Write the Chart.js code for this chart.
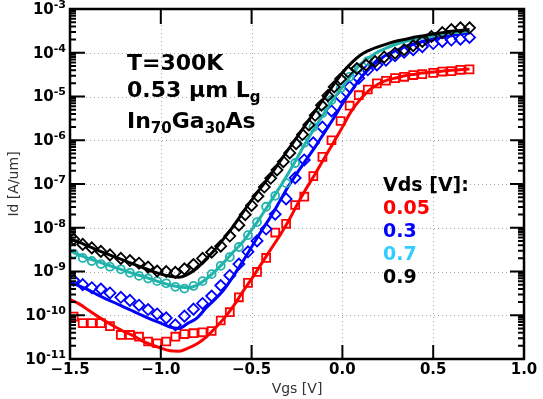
<!DOCTYPE html>
<html>
<head>
<meta charset="utf-8">
<script src="https://cdn.jsdelivr.net/npm/chart.js@4"></script>
<style>
  body { margin: 0; background: #fff; }
  #contGrafico { width: 543px; height: 399px; }
</style>
</head>
<body>
<div id="contGrafico"><canvas id="graficoId" width="543" height="399"></canvas></div>
<script>
//Datos: Vgs [V] y log10(Id [A/um])
const vgsMedido = [-1.48,-1.43,-1.38,-1.33,-1.28,-1.22,-1.17,-1.12,-1.07,-1.02,-0.97,-0.92,-0.87,-0.82,-0.77,-0.72,-0.67,-0.62,-0.57,-0.52,-0.47,-0.42,-0.37,-0.31,-0.26,-0.21,-0.16,-0.11,-0.06,-0.01,0.04,0.09,0.14,0.19,0.24,0.29,0.34,0.39,0.44,0.50,0.55,0.60,0.65,0.70];
const vgsNegro = [-1.48,-1.43,-1.38,-1.33,-1.28,-1.22,-1.17,-1.12,-1.07,-1.02,-0.97,-0.92,-0.87,-0.82,-0.77,-0.72,-0.67,-0.62,-0.57,-0.535,-0.50,-0.465,-0.43,-0.395,-0.36,-0.325,-0.29,-0.255,-0.22,-0.185,-0.15,-0.115,-0.08,-0.045,-0.01,0.03,0.08,0.13,0.18,0.23,0.29,0.34,0.39,0.44,0.49,0.55,0.60,0.65,0.70];
const vgsSimulado = [-1.5,-1.45,-1.4,-1.35,-1.3,-1.25,-1.2,-1.15,-1.1,-1.05,-1.0,-0.95,-0.9,-0.85,-0.8,-0.75,-0.7,-0.65,-0.6,-0.55,-0.5,-0.45,-0.4,-0.35,-0.3,-0.25,-0.2,-0.15,-0.1,-0.05,0.0,0.05,0.1,0.15,0.2,0.25,0.3,0.35,0.4,0.45,0.5,0.55,0.6,0.65,0.7];

// mediciones (marcadores)
const medRojo = [-10.03,-10.18,-10.18,-10.18,-10.25,-10.45,-10.45,-10.49,-10.60,-10.64,-10.60,-10.49,-10.43,-10.41,-10.39,-10.36,-10.12,-9.93,-9.59,-9.26,-9.01,-8.69,-8.11,-7.91,-7.48,-7.29,-6.82,-6.38,-6.00,-5.56,-5.21,-4.97,-4.84,-4.70,-4.64,-4.58,-4.55,-4.51,-4.49,-4.46,-4.43,-4.42,-4.39,-4.38];
const medAzul = [-9.20,-9.30,-9.37,-9.40,-9.49,-9.59,-9.66,-9.77,-9.87,-9.97,-10.06,-10.22,-10.02,-9.86,-9.73,-9.56,-9.32,-9.09,-8.83,-8.55,-8.30,-8.03,-7.69,-7.34,-6.86,-6.45,-6.06,-5.70,-5.33,-5.01,-4.78,-4.58,-4.39,-4.28,-4.17,-4.07,-3.99,-3.93,-3.86,-3.79,-3.74,-3.71,-3.69,-3.65];
const medCian = [-8.59,-8.69,-8.76,-8.83,-8.89,-8.95,-9.03,-9.10,-9.16,-9.22,-9.27,-9.35,-9.39,-9.33,-9.22,-9.06,-8.87,-8.67,-8.44,-8.17,-7.87,-7.52,-7.27,-6.98,-6.52,-6.06,-5.70,-5.38,-5.08,-4.81,-4.55,-4.35,-4.19];
const medNegro = [-8.26,-8.38,-8.46,-8.54,-8.62,-8.70,-8.75,-8.81,-8.90,-8.99,-9.00,-9.02,-8.94,-8.84,-8.70,-8.56,-8.42,-8.19,-7.94,-7.70,-7.49,-7.28,-7.07,-6.87,-6.68,-6.49,-6.29,-6.08,-5.87,-5.65,-5.43,-5.20,-4.98,-4.78,-4.60,-4.43,-4.36,-4.28,-4.20,-4.10,-4.01,-3.93,-3.84,-3.74,-3.63,-3.54,-3.47,-3.43,-3.43];

// simulacion (lineas)
const simRojo = [-9.64,-9.74,-9.88,-10.02,-10.15,-10.27,-10.38,-10.47,-10.59,-10.68,-10.75,-10.81,-10.82,-10.75,-10.65,-10.50,-10.29,-10.06,-9.79,-9.47,-9.17,-8.85,-8.53,-8.21,-7.87,-7.48,-7.11,-6.77,-6.41,-6.06,-5.70,-5.33,-5.06,-4.85,-4.71,-4.62,-4.57,-4.52,-4.49,-4.46,-4.44,-4.42,-4.40,-4.39,-4.37];
const simAzul = [-9.24,-9.33,-9.42,-9.53,-9.63,-9.72,-9.82,-9.91,-10.01,-10.10,-10.18,-10.27,-10.30,-10.18,-10.06,-9.83,-9.63,-9.40,-9.10,-8.78,-8.44,-8.10,-7.78,-7.43,-7.07,-6.75,-6.45,-6.15,-5.83,-5.51,-5.17,-4.87,-4.58,-4.35,-4.17,-4.03,-3.94,-3.85,-3.79,-3.73,-3.69,-3.64,-3.61,-3.57,-3.55];
const simCian = [-8.53,-8.62,-8.70,-8.77,-8.84,-8.91,-8.98,-9.05,-9.11,-9.18,-9.25,-9.31,-9.35,-9.37,-9.31,-9.17,-8.99,-8.78,-8.55,-8.33,-8.05,-7.75,-7.43,-7.11,-6.77,-6.41,-6.04,-5.70,-5.38,-5.06,-4.78,-4.51,-4.26,-4.10,-3.97,-3.88,-3.80,-3.74,-3.70,-3.65,-3.62,-3.58,-3.55,-3.53,-3.50];
const simNegro = [-8.25,-8.33,-8.42,-8.51,-8.59,-8.67,-8.75,-8.83,-8.91,-8.99,-9.06,-9.11,-9.13,-9.06,-8.92,-8.71,-8.49,-8.23,-7.96,-7.66,-7.37,-7.09,-6.82,-6.52,-6.22,-5.93,-5.63,-5.33,-5.03,-4.74,-4.46,-4.23,-4.05,-3.94,-3.86,-3.79,-3.73,-3.69,-3.64,-3.61,-3.57,-3.54,-3.51,-3.49,-3.47];

const ticksX = [-1.5, -1.0, -0.5, 0.0, 0.5, 1.0];
const etiquetasX = ['\u22121.5', '\u22121.0', '\u22120.5', '0.0', '0.5', '1.0'];
const exponentesY = [-11, -10, -9, -8, -7, -6, -5, -4, -3];
const vdsEtiquetas = ['0.05', '0.3', '0.7', '0.9'];
const vdsColores = ['#ff0000', '#0000ff', '#33ccff', '#000000'];

const CIAN = '#22b3ad';

function puntos(vgs, logs) {
	return logs.map((l, i) => ({ x: vgs[i], y: Math.pow(10, l) }));
}

function marcadores(vgs, logs, color, estilo, radio, orden) {
	return {
		data: puntos(vgs, logs),
		showLine: false,
		pointStyle: estilo,
		pointRadius: radio,
		pointBorderWidth: 1.8,
		pointBorderColor: color,
		pointBackgroundColor: 'rgba(0,0,0,0)',
		order: orden
	};
}

function linea(logs, color, orden) {
	return {
		data: puntos(vgsSimulado, logs),
		showLine: true,
		borderColor: color,
		borderWidth: 3,
		pointRadius: 0,
		cubicInterpolationMode: 'monotone',
		order: orden
	};
}

const FUENTE = '"DejaVu Sans", sans-serif';

function escribirPartes(ctx, partes, x, yBase, tam, tamSub) {
	partes.forEach(p => {
		ctx.font = 'bold ' + (p.sub ? tamSub : tam) + 'px ' + FUENTE;
		ctx.fillText(p.t, x, yBase + (p.sub ? 5 : 0));
		x += ctx.measureText(p.t).width;
	});
}

//Ejes, grilla y textos
const dibujarEjes = {
	id: 'dibujarEjes',
	beforeDatasetsDraw(chart) {
		const { ctx, chartArea: a, scales: { x, y } } = chart;
		ctx.save();
		ctx.strokeStyle = '#aaaaaa';
		ctx.lineWidth = 1;
		ctx.setLineDash([1, 3]);
		ticksX.forEach(v => {
			const px = Math.round(x.getPixelForValue(v)) + 0.5;
			ctx.beginPath(); ctx.moveTo(px, a.top); ctx.lineTo(px, a.bottom); ctx.stroke();
		});
		exponentesY.forEach(e => {
			const py = Math.round(y.getPixelForValue(Math.pow(10, e))) + 0.5;
			ctx.beginPath(); ctx.moveTo(a.left, py); ctx.lineTo(a.right, py); ctx.stroke();
		});
		ctx.restore();
	},
	afterDatasetsDraw(chart) {
		const { ctx, chartArea: a, scales: { x, y } } = chart;
		ctx.save();
		ctx.strokeStyle = '#000';
		ctx.lineWidth = 2;
		ctx.beginPath();
		// ticks x (abajo y arriba)
		ticksX.forEach(v => {
			const px = x.getPixelForValue(v);
			ctx.moveTo(px, a.bottom); ctx.lineTo(px, a.bottom - 14);
			ctx.moveTo(px, a.top); ctx.lineTo(px, a.top + 15);
		});
		// ticks y mayores y menores
		exponentesY.forEach(e => {
			const py = y.getPixelForValue(Math.pow(10, e));
			ctx.moveTo(a.left, py); ctx.lineTo(a.left + 15, py);
			ctx.moveTo(a.right, py); ctx.lineTo(a.right - 14, py);
			if (e < -3) {
				for (let m = 2; m <= 9; m++) {
					const pm = y.getPixelForValue(m * Math.pow(10, e));
					ctx.moveTo(a.left, pm); ctx.lineTo(a.left + 6, pm);
					ctx.moveTo(a.right, pm); ctx.lineTo(a.right - 6, pm);
				}
			}
		});
		ctx.stroke();
		ctx.lineWidth = 2.5;
		ctx.strokeRect(a.left, a.top, a.right - a.left, a.bottom - a.top);

		// etiquetas x
		ctx.fillStyle = '#000';
		ctx.font = 'bold 15px ' + FUENTE;
		ctx.textAlign = 'center';
		ctx.textBaseline = 'middle';
		ticksX.forEach((v, i) => ctx.fillText(etiquetasX[i], x.getPixelForValue(v), a.bottom + 11));

		// etiquetas y con superindice
		ctx.textAlign = 'right';
		exponentesY.forEach(e => {
			const py = y.getPixelForValue(Math.pow(10, e));
			ctx.font = 'bold 11px ' + FUENTE;
			const sup = '-' + (-e);
			const wSup = ctx.measureText(sup).width;
			ctx.fillText(sup, a.left - 4, py - 4);
			ctx.font = 'bold 15px ' + FUENTE;
			ctx.fillText('10', a.left - 4 - wSup, py + 1);
		});

		// titulos de ejes
		ctx.fillStyle = '#333';
		ctx.font = '14px ' + FUENTE;
		ctx.textAlign = 'center';
		ctx.fillText('Vgs [V]', (a.left + a.right) / 2, a.bottom + 30);
		ctx.save();
		ctx.translate(14, (a.top + a.bottom) / 2);
		ctx.rotate(-Math.PI / 2);
		ctx.fillText('Id [A/um]', 0, 0);
		ctx.restore();

		// anotaciones
		ctx.fillStyle = '#000';
		ctx.textAlign = 'left';
		ctx.textBaseline = 'alphabetic';
		escribirPartes(ctx, [{ t: 'T=300K' }], 127, 70, 22, 15);
		escribirPartes(ctx, [{ t: '0.53 \u03bcm L' }, { t: 'g', sub: true }], 127, 97, 22, 15);
		escribirPartes(ctx, [{ t: 'In' }, { t: '70', sub: true }, { t: 'Ga' }, { t: '30', sub: true }, { t: 'As' }], 127, 128, 22, 15);

		// leyenda Vds
		ctx.font = 'bold 19px ' + FUENTE;
		ctx.fillText('Vds [V]:', 383, 191);
		vdsEtiquetas.forEach((t, i) => {
			ctx.fillStyle = vdsColores[i];
			ctx.fillText(t, 383, 214 + i * 23);
		});
		ctx.restore();
	}
};

new Chart(document.getElementById('graficoId'), {
	type: 'scatter',
	data: {
		datasets: [
			marcadores(vgsMedido, medRojo, '#ff0000', 'rect', 5.6, 8),
			linea(simRojo, '#ff0000', 7),
			marcadores(vgsMedido, medAzul, '#0000ff', 'rectRot', 5.5, 6),
			linea(simAzul, '#0000ff', 5),
			marcadores(vgsMedido.slice(0, medCian.length), medCian, CIAN, 'circle', 4, 4),
			linea(simCian, CIAN, 3),
			marcadores(vgsNegro, medNegro, '#000000', 'rectRot', 5.5, 2),
			linea(simNegro, '#000000', 1)
		]
	},
	options: {
		responsive: false,
		animation: false,
		devicePixelRatio: 1,
		layout: { padding: { left: 70, top: 9, right: 19, bottom: 40 } },
		scales: {
			x: { type: 'linear', min: -1.5, max: 1.0, display: false },
			y: { type: 'logarithmic', min: 1e-11, max: 1e-3, display: false }
		},
		plugins: {
			legend: { display: false },
			tooltip: { enabled: false }
		}
	},
	plugins: [dibujarEjes]
});
</script>
</body>
</html>
